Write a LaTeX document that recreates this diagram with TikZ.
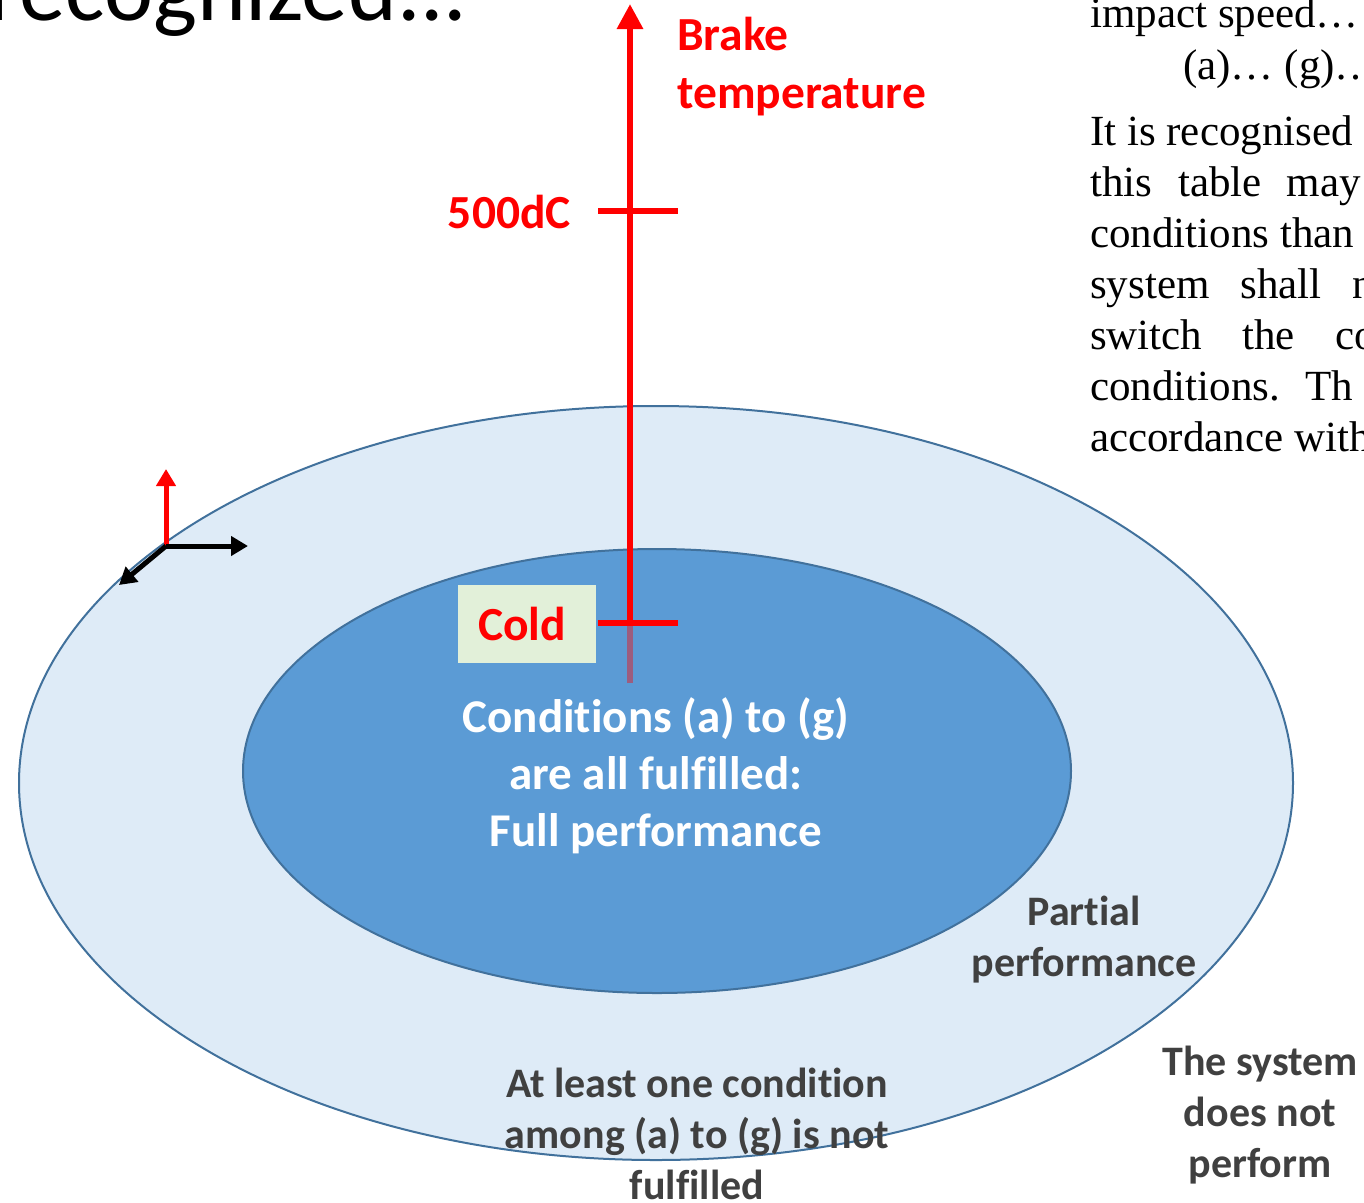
\documentclass[tikz,border=0pt]{standalone}
\usepackage{fontspec}
\setmainfont{Carlito}[Ligatures=NoCommon]
\newfontfamily\bodyserif{Liberation Serif}
\usetikzlibrary{arrows.meta}

\definecolor{zoneout}{HTML}{DEEBF7}
\definecolor{zonein}{HTML}{5B9BD5}
\definecolor{zoneedge}{HTML}{41719C}
\definecolor{labelgray}{HTML}{404040}
\definecolor{coldfill}{HTML}{E2F0D9}

\tikzset{
  zone/.style={draw=zoneedge, line width=2pt},
  axislabel/.style={text=red, font=\fontsize{47.5}{58}\selectfont\bfseries, inner sep=0pt},
  zonelabel/.style={text=labelgray, font=\fontsize{42}{51}\selectfont\bfseries, align=center, inner sep=0pt},
  tempaxis/.style={red, line width=6pt},
  frameaxis/.style={line width=5pt, -{Triangle[width=19pt,length=17pt]}},
  bodyline/.style={anchor=base west, inner sep=0pt, font=\bodyserif\fontsize{43}{51}\selectfont},
}

\begin{document}
\begin{tikzpicture}[x=1pt, y=-1pt]
\useasboundingbox (0,0) rectangle (1364,1202);
\clip (0,0) rectangle (1364,1202);

% heading and running text
\node[anchor=base west, inner sep=0pt, font=\fontsize{93}{93}\selectfont] (heading) at (-12,20) {recognized...};
\node[bodyline] (line1) at (1090,27) {impact speed…};
\node[bodyline] (line2) at (1183,79) {(a)… (g)…};
\node[bodyline] (line3) at (1090,145) {It is recognised};
\node[bodyline] (line4) at (1090,196) {this\hspace{26pt}table\hspace{25pt}may};
\node[bodyline] (line5) at (1090,247) {conditions than};
\node[bodyline] (line6) at (1090,298) {system\hspace{31pt}shall\hspace{31pt}n};
\node[bodyline] (line7) at (1090,349) {switch\hspace{40pt}the\hspace{40pt}co};
\node[bodyline] (line8) at (1090,400) {conditions.\hspace{25pt}Th};
\node[bodyline] (line9) at (1090,451) {accordance with};

% zones
\draw[zone, fill=zoneout] (656,783) ellipse [x radius=637, y radius=377];
\draw[zone, fill=zonein] (657,771) ellipse [x radius=414, y radius=222];

% temperature axis
\coordinate (tbase) at (630,683);
\coordinate (tcold) at (630,623);
\coordinate (thot) at (630,211);
\coordinate (ttop) at (630,4);
\draw[tempaxis, opacity=0.4] (tbase) -- (tcold);
\draw[tempaxis, -{Triangle[width=25pt,length=25pt]}] (tcold) -- (ttop);
\draw[tempaxis] ([xshift=-32pt]tcold) -- ([xshift=48pt]tcold);
\draw[tempaxis] ([xshift=-32pt]thot) -- ([xshift=48pt]thot);

\node[axislabel, anchor=west, align=left] (templabel) at (677,67) {Brake\\temperature};
\node[axislabel, anchor=east] (hotlabel) at (571,212) {500dC};
\node[axislabel, fill=coldfill, minimum width=138pt, minimum height=78pt] (coldlabel) at (527,624) {Cold\hspace*{10pt}};

% small frame
\coordinate (frameo) at (166,546);
\coordinate (framey) at (166,469);
\coordinate (framex) at (248,546);
\coordinate (framez) at (119,585);
\draw[frameaxis, red] (frameo) -- (framey);
\draw[frameaxis, black] (frameo) -- (framex);
\draw[frameaxis, black] (frameo) -- (framez);

% zone texts
\node[text=white, font=\fontsize{47}{57}\selectfont\bfseries, align=center, inner sep=0pt] (fulltext) at (656,776)
  {Conditions (a) to (g)\\are all fulfilled:\\Full performance};
\node[zonelabel] (partial) at (1084,940) {Partial\\performance};
\node[zonelabel] (notmet) at (697,1134) {At least one condition\\among (a) to (g) is not\\fulfilled};
\node[zonelabel] (noperf) at (1260,1115) {The system\\does not\\perform};
\end{tikzpicture}
\end{document}
